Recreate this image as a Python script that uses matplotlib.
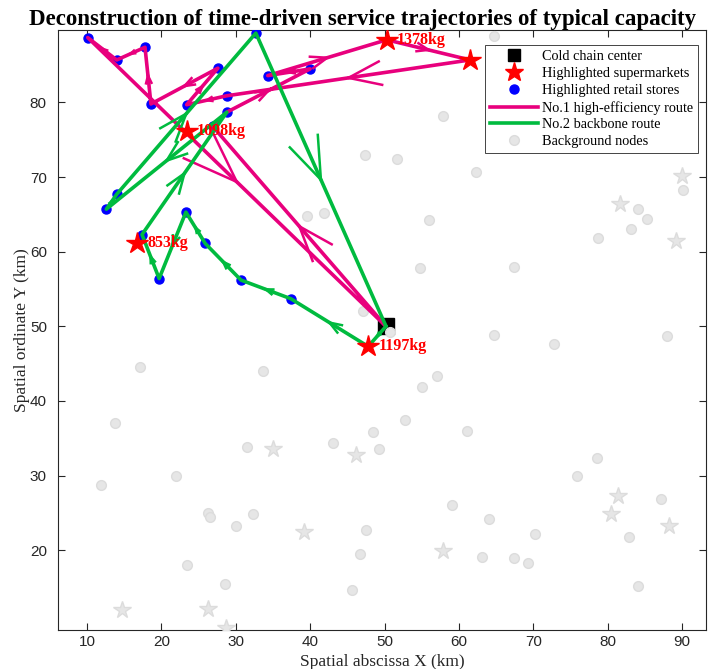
import numpy as np
import matplotlib.pyplot as plt
from matplotlib.lines import Line2D

PINK = '#e8007d'
GREEN = '#00bb3f'

# cold chain center
center_x, center_y = 50.2, 50.0

# highlighted supermarkets with load labels
super_x = [50.3, 61.5, 23.4, 16.7, 47.8]
super_y = [88.4, 85.7, 76.2, 61.1, 47.3]
super_labels = ['1378kg', '', '1098kg', '853kg', '1197kg']

# highlighted retail stores
store_x = [10.1, 14.0, 17.8, 18.6, 27.6, 23.4, 28.8, 28.8, 26.9, 32.7, 34.3, 40.0,
           14.0, 12.6, 23.3, 17.4, 19.7, 25.9, 30.7, 37.4]
store_y = [88.7, 85.7, 87.4, 79.8, 84.6, 79.7, 80.9, 78.7, 76.8, 89.3, 83.6, 84.5,
           67.7, 65.7, 65.3, 62.3, 56.4, 61.1, 56.2, 53.7]

# route 1 (high-efficiency) visiting order
pink_x = [50.2, 26.9, 28.8, 40.0, 34.3, 50.3, 61.5, 28.8, 23.4, 27.6, 18.6, 17.8, 14.0, 10.1, 50.2]
pink_y = [50.0, 76.8, 78.7, 84.5, 83.6, 88.4, 85.7, 80.9, 79.7, 84.6, 79.8, 87.4, 85.7, 88.7, 50.0]

# route 2 (backbone) visiting order
green_x = [50.2, 47.8, 37.4, 30.7, 25.9, 23.3, 19.7, 17.4, 28.8, 12.6, 14.0, 32.7, 50.2]
green_y = [50.0, 47.3, 53.7, 56.2, 61.1, 65.3, 56.4, 62.3, 78.7, 65.7, 67.7, 89.3, 50.0]

# background nodes (circles)
bg_x = [17.1, 33.7, 13.8, 31.5, 43.1, 48.4, 49.2, 22.0, 11.9, 26.3, 26.5, 32.3, 30.0,
        47.5, 46.7, 23.4, 28.5, 45.6, 64.7, 72.8, 88.0, 57.0, 55.0, 52.7, 61.1, 78.5,
        75.9, 87.2, 59.1, 64.0, 70.2, 82.8, 63.1, 67.4, 69.3, 84.1, 50.7, 47.1, 54.8,
        57.8, 47.4, 51.7, 62.3, 39.6, 41.9, 56.0, 67.4, 78.7, 83.1, 84.1, 85.3, 90.1, 64.7]
bg_y = [44.6, 44.0, 37.1, 33.8, 34.3, 35.9, 33.6, 29.9, 28.7, 25.0, 24.5, 24.8, 23.2,
        22.7, 19.5, 18.0, 15.5, 14.6, 48.8, 47.6, 48.7, 43.4, 41.9, 37.4, 36.0, 32.4,
        29.9, 26.8, 26.1, 24.2, 22.1, 21.7, 19.1, 18.9, 18.3, 15.2, 49.3, 52.1, 57.8,
        78.2, 73.0, 72.4, 70.7, 64.8, 65.2, 64.2, 58.0, 61.9, 63.0, 65.7, 64.4, 68.3, 88.9]

# background nodes (stars)
bgs_x = [35.0, 46.2, 39.2, 14.7, 26.3, 28.7, 81.4, 80.4, 88.2, 57.8, 90.0, 81.6, 89.2]
bgs_y = [33.6, 32.8, 22.4, 12.0, 12.1, 9.6, 27.2, 24.9, 23.3, 19.9, 70.1, 66.4, 61.4]


def draw_route(ax, xs, ys, color):
    ax.plot(xs, ys, color=color, lw=2.6, solid_capstyle='round', zorder=4)
    # arrowhead at the middle of each leg, size scaled with leg length
    for i in range(len(xs) - 1):
        x0, y0, x1, y1 = xs[i], ys[i], xs[i + 1], ys[i + 1]
        dx, dy = x1 - x0, y1 - y0
        L = np.hypot(dx, dy)
        if L == 0:
            continue
        mx, my = x0 + dx / 2, y0 + dy / 2
        ang = np.arctan2(dy, dx)
        wl = 0.14 * L
        for s in (1, -1):
            a = ang + np.pi + s * np.radians(20)
            ax.plot([mx, mx + wl * np.cos(a)], [my, my + wl * np.sin(a)],
                    color=color, lw=1.8, zorder=4)


fig = plt.figure(figsize=(7.13, 6.69), dpi=100)
ax = fig.add_axes([0.0813, 0.0583, 0.9087, 0.8967])

ax.plot(center_x, center_y, 's', color='black', ms=11, zorder=2)
ax.plot(bg_x, bg_y, 'o', color='#e6e6e6', mec='#dcdcdc', ms=7, zorder=3)
ax.plot(bgs_x, bgs_y, '*', color='#e6e6e6', mec='#dcdcdc', ms=13, zorder=3)
ax.plot(store_x, store_y, 'o', color='#0000ff', ms=6.5, zorder=3)

draw_route(ax, pink_x, pink_y, PINK)
draw_route(ax, green_x, green_y, GREEN)

ax.plot(super_x, super_y, '*', color='#ff0000', ms=16, zorder=5)
for x, y, t in zip(super_x, super_y, super_labels):
    if t:
        ax.text(x + 1.4, y, t, color='#ff0000', fontsize=11.5, fontweight='bold',
                family='Liberation Serif', va='center', ha='left', zorder=6)

ax.set_xlim(6.1, 93.2)
ax.set_ylim(9.3, 89.7)
ax.set_xticks(range(10, 91, 10))
ax.set_yticks(range(20, 81, 10))
ax.tick_params(direction='in', top=True, right=True, length=5, width=0.8,
               colors='#262626', labelsize=11)
ax.tick_params(axis='y', pad=8)
for lab in ax.get_xticklabels() + ax.get_yticklabels():
    lab.set_family('Liberation Sans')
for sp in ax.spines.values():
    sp.set_color('#262626')
    sp.set_linewidth(0.8)

ax.set_xlabel('Spatial abscissa X (km)', family='Liberation Serif', fontsize=12.5, color='#262626')
ax.set_ylabel('Spatial ordinate Y (km)', family='Liberation Serif', fontsize=12.5,
              color='#262626', labelpad=0)
ax.set_title('Deconstruction of time-driven service trajectories of typical capacity',
             family='Liberation Serif', fontweight='bold', fontsize=16.5, pad=4, x=0.47)

handles = [
    Line2D([], [], ls='', marker='s', color='black', ms=9),
    Line2D([], [], ls='', marker='*', color='#ff0000', ms=14),
    Line2D([], [], ls='', marker='o', color='#0000ff', ms=6.5),
    Line2D([], [], color=PINK, lw=2.6),
    Line2D([], [], color=GREEN, lw=2.6),
    Line2D([], [], ls='', marker='o', color='#e6e6e6', mec='#dcdcdc', ms=7),
]
labels = ['Cold chain center', 'Highlighted supermarkets', 'Highlighted retail stores',
          'No.1 high-efficiency route', 'No.2 backbone route', 'Background nodes']
leg = ax.legend(handles, labels, loc='upper right', bbox_to_anchor=(0.988, 0.975),
                prop={'family': 'Liberation Serif', 'size': 10.3}, fancybox=False,
                framealpha=1, edgecolor='#262626', handlelength=3.4,
                borderpad=0.35, labelspacing=0.27, handletextpad=0.25, borderaxespad=0)
leg.get_frame().set_linewidth(0.6)
leg.set_zorder(10)

fig.savefig('out.png', dpi=100)
